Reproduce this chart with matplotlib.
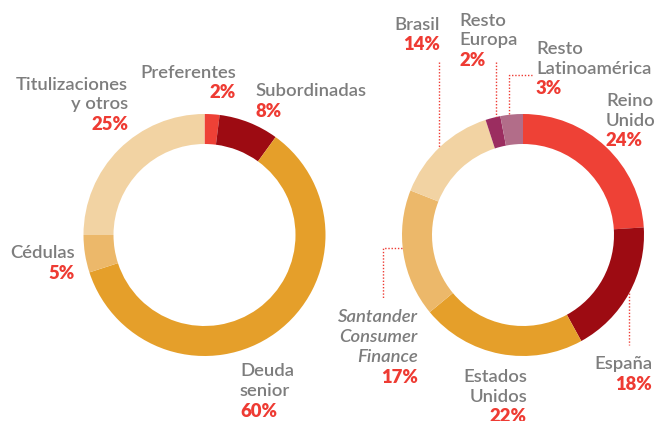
import matplotlib.pyplot as plt

# Emisiones por tipo de instrumento (%)
tipo_labels = ["Preferentes", "Subordinadas", "Deuda\nsenior", "Cédulas", "Titulizaciones\ny otros"]
tipo_values = [2, 8, 60, 5, 25]

# Emisiones por área geográfica (%)
geo_labels = ["Reino\nUnido", "España", "Estados\nUnidos", "Santander\nConsumer\nFinance",
              "Brasil", "Resto\nEuropa", "Resto\nLatinoamérica"]
geo_values = [24, 18, 22, 17, 14, 2, 3]

RED = "#ee4136"
DARK = "#9d0b12"
ORANGE = "#e59f2a"
MID = "#ecb86a"
LIGHT = "#f2d3a3"
PURPLE = "#9b2d60"
MAUVE = "#b26d89"
GRAY = "#7d7d7d"
PCT = "#ee3b33"

tipo_colors = [RED, DARK, ORANGE, MID, LIGHT]
geo_colors = [RED, DARK, ORANGE, MID, LIGHT, PURPLE, MAUVE]

W, H = 662, 421
plt.rcParams['font.family'] = ['Lato', 'DejaVu Sans']

fig = plt.figure(figsize=(W / 100, H / 100), dpi=100)
ax = fig.add_axes([0, 0, 1, 1])


def Y(py):
    # pixel rows counted from the top
    return H - py


R, RING = 121, 30
ax.pie(tipo_values, colors=tipo_colors, startangle=90, counterclock=False,
       center=(204.5, Y(235)), radius=R, wedgeprops=dict(width=RING, linewidth=0))
ax.pie(geo_values, colors=geo_colors, startangle=90, counterclock=False,
       center=(523, Y(235)), radius=R, wedgeprops=dict(width=RING, linewidth=0))
ax.set_xlim(0, W)
ax.set_ylim(0, H)
ax.set_aspect('auto')
ax.axis('off')

FS = 13.3
STEP = 20


def label(x, y, name, value, ha, italic=False):
    # y is the centre of the first line
    lines = name.split("\n")
    for i, line in enumerate(lines):
        ax.text(x, Y(y + STEP * i), line, ha=ha, va='center_baseline', fontsize=FS,
                color=GRAY, fontweight='semibold',
                style='italic' if italic else 'normal')
    ax.text(x, Y(y + STEP * len(lines)), f"{value}%", ha=ha, va='center_baseline',
            fontsize=FS, color=PCT, fontweight='heavy')


# rótulos del gráfico de tipo de instrumento
label(236, 71, tipo_labels[0], tipo_values[0], 'right')
label(255, 90, tipo_labels[1], tipo_values[1], 'left')
label(240, 370, tipo_labels[2], tipo_values[2], 'left')
label(75, 252, tipo_labels[3], tipo_values[3], 'right')
label(128, 83, tipo_labels[4], tipo_values[4], 'right')

# rótulos del gráfico geográfico
label(606, 99, geo_labels[0], geo_values[0], 'left')
label(652, 363, geo_labels[1], geo_values[1], 'right')
label(527, 375, geo_labels[2], geo_values[2], 'right')
label(418, 316, geo_labels[3], geo_values[3], 'right', italic=True)
label(440, 23, geo_labels[4], geo_values[4], 'right')
label(459, 19, geo_labels[5], geo_values[5], 'left')
label(536, 47, geo_labels[6], geo_values[6], 'left')

# líneas guía punteadas
guides = [
    ([439, 439], [62, 147]),
    ([496, 496], [62, 117]),
    ([509, 509, 532], [114, 75, 75]),
    ([402, 383, 383], [248, 248, 298]),
    ([629, 629], [293, 345]),
]
for xs, ys in guides:
    ax.plot(xs, [Y(v) for v in ys], color=PCT, linestyle=(0, (1, 1.3)), linewidth=1)

fig.savefig("out.png", dpi=100)
